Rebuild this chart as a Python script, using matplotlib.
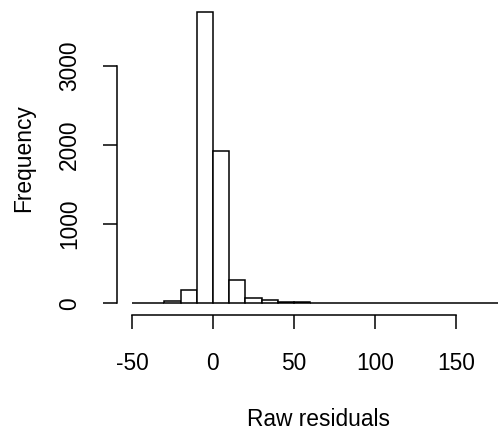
import matplotlib
matplotlib.use("Agg")
import matplotlib.pyplot as plt

# histogram of raw residuals, bins of width 10
bin_left = [-50, -40, -30, -20, -10, 0, 10, 20, 30, 40, 50, 60, 70, 80,
            90, 100, 110, 120, 130, 140, 150, 160, 170]
counts = [2, 3, 28, 168, 3684, 1928, 295, 71, 40, 12, 20, 5, 3, 2,
          1, 1, 1, 0, 1, 0, 1, 0, 1]
x_ticks = [-50, 0, 50, 100, 150]
y_ticks = [0, 1000, 2000, 3000]

plt.rcParams['font.family'] = ['Liberation Sans', 'DejaVu Sans']
plt.rcParams['axes.unicode_minus'] = False

W, H = 498, 434
fig = plt.figure(figsize=(W / 100, H / 100), dpi=100)
# plot region in pixels: left 117, right 498, top 0, bottom 315
ax = fig.add_axes([117 / W, (H - 315) / H, (W - 117) / W, 315 / H])

ax.bar(bin_left, counts, width=10, align='edge', facecolor='white',
       edgecolor='black', linewidth=1.1)

ax.set_xlim(-59.2, -59.2 + (W - 117) / 1.62)
ax.set_ylim(-148, 3834)

for s in ['top', 'right']:
    ax.spines[s].set_visible(False)
ax.spines['left'].set_bounds(0, 3000)
ax.spines['bottom'].set_bounds(-50, 150)
ax.spines['left'].set_linewidth(1.1)
ax.spines['bottom'].set_linewidth(1.1)

ax.set_xticks(x_ticks)
ax.set_yticks(y_ticks)
ax.set_xticklabels([str(v) for v in x_ticks])
ax.set_yticklabels([str(v) for v in y_ticks], rotation=90, va='center')
ax.tick_params(axis='both', length=10, width=1.1, labelsize=16.4)
ax.tick_params(axis='x', pad=17)
ax.tick_params(axis='y', pad=16)

fig.text(318.7 / W, 1 - 419 / H, 'Raw residuals', ha='center', va='center', fontsize=16.4)
fig.text(24 / W, 1 - 158 / H, 'Frequency', ha='center', va='center',
         rotation=90, fontsize=16.4)

fig.savefig('out.png', dpi=100)
